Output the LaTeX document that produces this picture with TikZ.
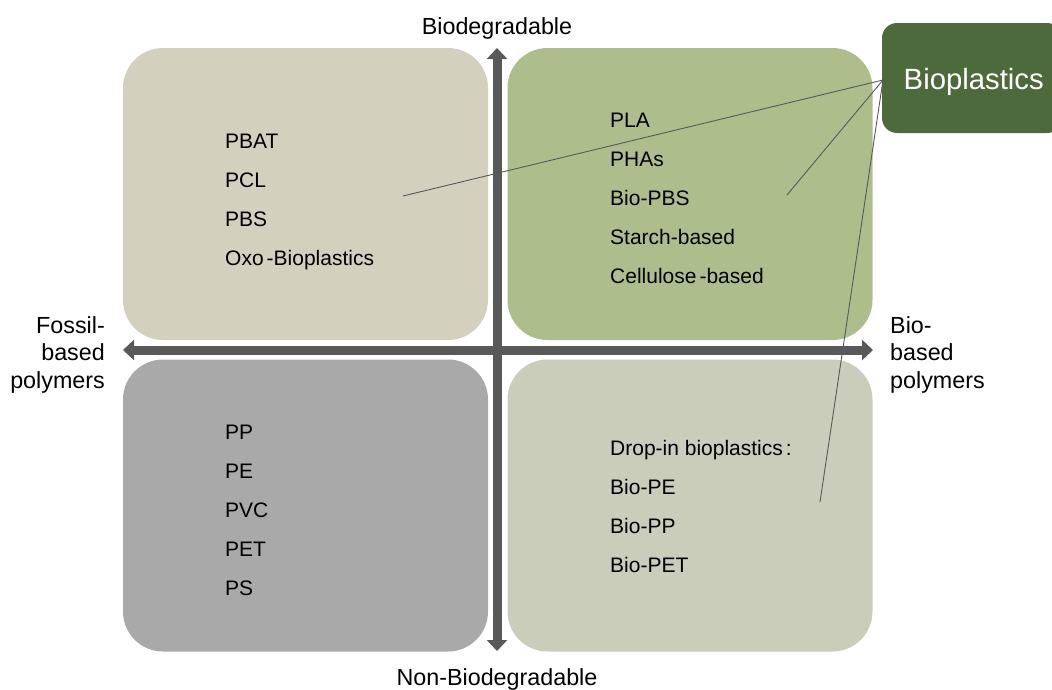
\documentclass[tikz,border=0pt]{standalone}
\usepackage{fontspec}
\setmainfont{Liberation Sans}
\usetikzlibrary{arrows.meta}
\definecolor{quadTL}{HTML}{D3D0BE}
\definecolor{quadTR}{HTML}{ADBD8C}
\definecolor{quadBL}{HTML}{A9A9A9}
\definecolor{quadBR}{HTML}{C9CDBA}
\definecolor{bioGreen}{HTML}{4C6A3B}
\definecolor{axisGrey}{HTML}{595959}
\tikzset{
  quad/.style={rectangle, rounded corners=40pt, inner sep=0pt,
    minimum width=365pt, minimum height=292pt},
  items/.style={anchor=base west, align=left, inner sep=0pt,
    font=\fontsize{21}{39}\selectfont},
  axislabel/.style={inner sep=0pt, font=\fontsize{23.3}{27.5}\selectfont},
  axisarrow/.style={line width=9pt, draw=axisGrey,
    {Triangle[width=20pt,length=11pt]}-{Triangle[width=20pt,length=11pt]}},
  link/.style={draw=axisGrey, line width=0.9pt},
}
\begin{document}
\begin{tikzpicture}[x=1pt,y=-1pt]
\useasboundingbox (0,0) rectangle (1052,689);

% quadrants
\node[quad, fill=quadTL] (tl) at (305.5,194) {};
\node[quad, fill=quadTR] (tr) at (690,194) {};
\node[quad, fill=quadBL] (bl) at (305.5,505.5) {};
\node[quad, fill=quadBR] (br) at (690,505.5) {};

% axes
\coordinate (top) at (497,48);
\coordinate (bottom) at (497,651);
\coordinate (left) at (123,350);
\coordinate (right) at (873,350);
\draw[axisarrow] (top) -- (bottom);
\draw[axisarrow] (left) -- (right);

% axis labels (multi-line nodes are placed by the baseline of their last line)
\node[axislabel, anchor=base] (bio) at (497,34) {Biodegradable};
\node[axislabel, anchor=base] (nonbio) at (497,685) {Non-Biodegradable};
\node[axislabel, anchor=base east, align=right] (fossil) at (105,388) {Fossil-\\based\\polymers};
\node[axislabel, anchor=base west, align=left] (biobased) at (890,388) {Bio-\\based\\polymers};

% quadrant contents
\node[items] (tltext) at (225,265.5) {PBAT\\PCL\\PBS\\Oxo\kern3pt-Bioplastics};
\node[items] (trtext) at (610,283.5) {PLA\\PHAs\\Bio-PBS\\Starch-based\\Cellulose\kern3pt-based};
\node[items] (bltext) at (225,595.5) {PP\\PE\\PVC\\PET\\PS};
\node[items] (brtext) at (610,572.5) {Drop-in bioplastics\kern3pt:\\Bio-PE\\Bio-PP\\Bio-PET};

% bioplastics callout
\node[rectangle, rounded corners=15pt, fill=bioGreen, inner sep=0pt,
  minimum width=180pt, minimum height=110pt] (bioplastics) at (972,78) {};
\node[text=white, inner sep=0pt, anchor=base west,
  font=\fontsize{29.3}{34}\selectfont] (biolabel) at (903.5,89) {Bioplastics};

% links from the callout
\coordinate (hub) at (883,80);
\coordinate (ptl) at (403,196);
\coordinate (ptr) at (787,195);
\coordinate (pbr) at (820,502);
\draw[link] (hub) -- (ptl);
\draw[link] (hub) -- (ptr);
\draw[link] (hub) -- (pbr);
\end{tikzpicture}
\end{document}
